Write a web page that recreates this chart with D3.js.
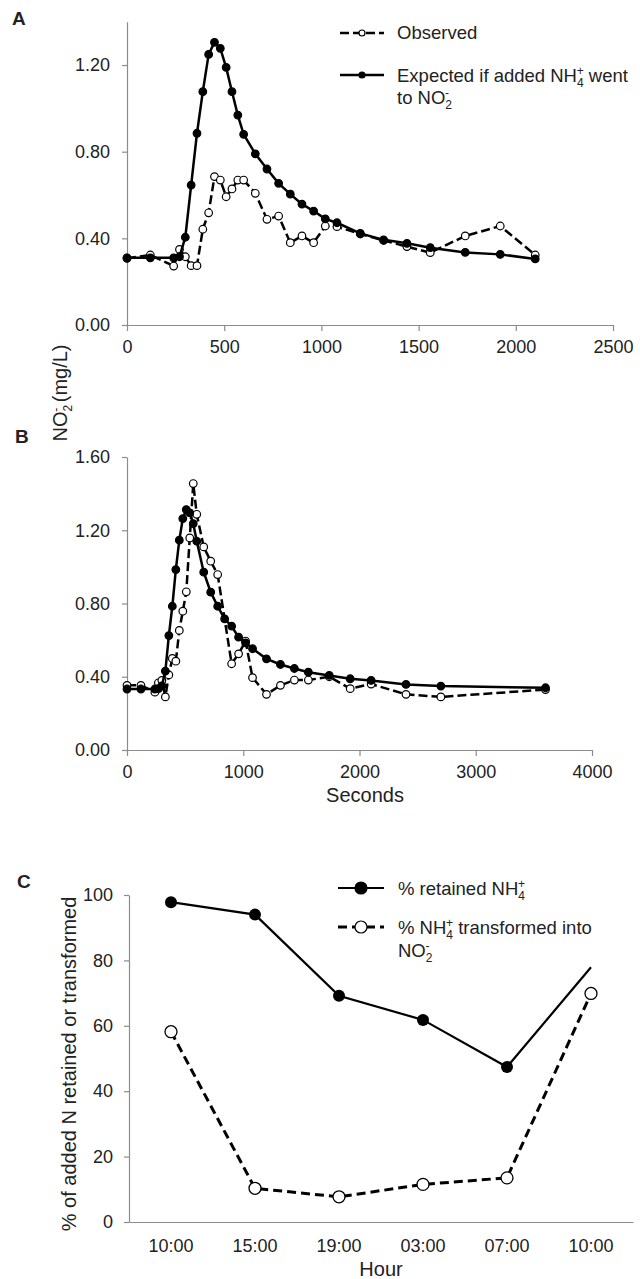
<!DOCTYPE html>
<html>
<head>
<meta charset="utf-8">
<script src="https://cdn.jsdelivr.net/npm/d3@7"></script>
<style>
body{margin:0;background:#fff;}
svg text{font-family:"Liberation Sans",Arial,sans-serif;fill:#222;font-size:18px;}
.axis path,.axis line{stroke:#8c8c8c;stroke-width:1.2;}
.axis text{font-size:18px;fill:#222;}
.title{font-size:20px !important;}
.leg{font-size:18.5px !important;}
</style>
</head>
<body>
<div id="chart"></div>
<script>
// panel A
var secExpA=[0,120,240,270,300,330,360,390,420,450,480,510,540,570,600,660,720,780,840,900,960,1020,1080,1200,1320,1440,1560,1740,1920,2100];
var expA=[0.31,0.31,0.31,0.315,0.405,0.646,0.885,1.077,1.249,1.305,1.277,1.189,1.077,0.969,0.880,0.790,0.720,0.654,0.604,0.558,0.526,0.490,0.472,0.423,0.393,0.377,0.357,0.335,0.326,0.305];
var secObsA=[0,120,240,270,300,330,360,390,420,450,480,510,540,570,600,660,720,780,840,900,960,1020,1080,1200,1320,1440,1560,1740,1920,2100];
var obsA=[0.308,0.323,0.272,0.349,0.315,0.274,0.274,0.442,0.518,0.685,0.669,0.592,0.628,0.669,0.669,0.608,0.488,0.503,0.380,0.411,0.380,0.457,0.454,0.42,0.39,0.362,0.334,0.411,0.457,0.323];
var ticksXA=[0,500,1000,1500,2000,2500];
var ticksYA=[0,0.4,0.8,1.2];

// panel B
var secExpB=[0,120,240,270,300,330,360,390,420,450,480,510,540,570,600,660,720,780,840,900,960,1020,1080,1200,1320,1440,1560,1740,1920,2100,2400,2700,3600];
var expB=[0.333,0.333,0.333,0.335,0.35,0.431,0.625,0.785,0.985,1.146,1.264,1.313,1.295,1.236,1.14,0.971,0.862,0.785,0.716,0.676,0.616,0.585,0.553,0.498,0.467,0.445,0.425,0.407,0.389,0.38,0.358,0.349,0.34];
var secObsB=[0,120,240,270,300,330,360,390,420,450,480,510,540,570,600,660,720,780,900,960,1020,1080,1200,1320,1440,1560,1740,1920,2100,2400,2700,3600];
var obsB=[0.353,0.353,0.316,0.367,0.38,0.29,0.41,0.50,0.485,0.653,0.758,0.864,1.158,1.455,1.287,1.109,1.031,0.958,0.471,0.525,0.595,0.395,0.304,0.353,0.382,0.382,0.40,0.335,0.36,0.304,0.29,0.33];
var ticksXB=[0,1000,2000,3000,4000];
var ticksYB=[0,0.4,0.8,1.2,1.6];

// panel C
var hours=["10:00","15:00","19:00","03:00","07:00","10:00"];
var retained=[97.8,94.0,69.2,61.8,47.4,77.9];
var retainedMark=[1,1,1,1,1,0];
var transformed=[58.2,10.3,7.7,11.5,13.5,69.9];
var ticksYC=[0,20,40,60,80,100];

var svg=d3.select("#chart").append("svg")
	.attr("width",640)
	.attr("height",1279);

// text with stacked sub/superscripts: n normal, b sub, p sup over the sub
function rich(t,segs){
	var off=0;
	segs.forEach(function(g){
		var sp=t.append("tspan").text(g[0]);
		var target=0;
		if(g[1]=="b"){target=5;sp.style("font-size","12px");}
		if(g[1]=="p"){target=-7;sp.style("font-size","12px").attr("dx",-7);}
		sp.attr("dy",target-off);
		off=target;
	});
	return t;
}

function drawAxes(x,y,xt,yt,fmt){
	svg.append("g").attr("class","axis")
		.attr("transform","translate(0,"+y.range()[0]+")")
		.call(d3.axisBottom(x).tickValues(xt).tickSize(6).tickSizeOuter(0).tickPadding(9).tickFormat(d3.format("d")));
	svg.append("g").attr("class","axis")
		.attr("transform","translate("+x.range()[0]+",0)")
		.call(d3.axisLeft(y).tickValues(yt).tickSize(5).tickSizeOuter(0).tickPadding(12).tickFormat(fmt));
}

function drawSeries(x,y,xs,ys,dashed,filled,r,w){
	var pts=xs.map(function(d,i){return [x(d),y(ys[i])];});
	svg.append("path")
		.attr("d",d3.line()(pts))
		.attr("fill","none")
		.attr("stroke","#000")
		.attr("stroke-width",w)
		.attr("stroke-dasharray",dashed?"9,4":null);
	svg.append("g").selectAll("circle")
		.data(pts)
		.enter()
		.append("circle")
		.attr("cx",function(d){return d[0];})
		.attr("cy",function(d){return d[1];})
		.attr("r",r)
		.attr("fill",filled?"#000":"#fff")
		.attr("stroke","#000")
		.attr("stroke-width",1.2);
}

// ---- A ----
var xA=d3.scaleLinear().domain([0,2500]).range([127,613]);
var yA=d3.scaleLinear().domain([0,1.4]).range([325,21.7]);
drawAxes(xA,yA,ticksXA,ticksYA,d3.format(".2f"));
drawSeries(xA,yA,secObsA,obsA,true,false,3.8,2.5);
drawSeries(xA,yA,secExpA,expA,false,true,3.8,2.5);

// ---- B ----
var xB=d3.scaleLinear().domain([0,4000]).range([127,592]);
var yB=d3.scaleLinear().domain([0,1.6]).range([750,457]);
drawAxes(xB,yB,ticksXB,ticksYB,d3.format(".2f"));
drawSeries(xB,yB,secObsB,obsB,true,false,3.8,2.5);
drawSeries(xB,yB,secExpB,expB,false,true,3.8,2.5);

// legend A
function legendRow(x1,x2,y,dashed,filled,r,w,dash){
	svg.append("line").attr("x1",x1).attr("x2",x2).attr("y1",y).attr("y2",y)
		.attr("stroke","#000").attr("stroke-width",w)
		.attr("stroke-dasharray",dashed?dash:null);
	svg.append("circle").attr("cx",(x1+x2)/2).attr("cy",y).attr("r",r)
		.attr("fill",filled?"#000":"#fff").attr("stroke","#000").attr("stroke-width",1.2);
}
legendRow(340,384,33,true,false,3,2.5,"9,4");
legendRow(340,384,75,false,true,3,2.5,null);
svg.append("text").attr("class","leg").attr("x",397).attr("y",39).text("Observed");
rich(svg.append("text").attr("class","leg").attr("x",397).attr("y",82),[["Expected if added NH","n"],["4","b"],["+","p"],[" went","n"]]);
rich(svg.append("text").attr("class","leg").attr("x",397).attr("y",104),[["to NO","n"],["2","b"],["-","p"]]);

// panel letters
svg.append("text").attr("x",12).attr("y",25).style("font-weight","bold").style("font-size","19px").text("A");
svg.append("text").attr("x",15).attr("y",443).style("font-weight","bold").style("font-size","19px").text("B");
svg.append("text").attr("x",17).attr("y",888).style("font-weight","bold").style("font-size","19px").text("C");

// shared y title A/B
rich(svg.append("text").attr("class","title").attr("transform","translate(67,393) rotate(-90)").attr("text-anchor","middle"),
	[["NO","n"],["2","b"],["-","p"],[" (mg/L)","n"]]);
svg.append("text").attr("class","title").attr("x",365).attr("y",802).attr("text-anchor","middle").text("Seconds");

// ---- C ----
var xC=d3.scaleBand().domain(d3.range(hours.length)).range([129,633]);
var yC=d3.scaleLinear().domain([0,100]).range([1222,895]);
svg.append("g").attr("class","axis")
	.attr("transform","translate(0,1222)")
	.call(d3.axisBottom(xC).tickSize(0).tickSizeOuter(0).tickPadding(17).tickFormat(function(i){return hours[i];}));
svg.append("g").attr("class","axis")
	.attr("transform","translate(129,0)")
	.call(d3.axisLeft(yC).tickValues(ticksYC).tickSize(5).tickSizeOuter(0).tickPadding(11));

function cx(i){return xC(i)+xC.bandwidth()/2;}
svg.append("path")
	.attr("d",d3.line().x(function(d,i){return cx(i);}).y(function(d){return yC(d);})(transformed))
	.attr("fill","none").attr("stroke","#000").attr("stroke-width",3).attr("stroke-dasharray","9,5");
svg.append("path")
	.attr("d",d3.line().x(function(d,i){return cx(i);}).y(function(d){return yC(d);})(retained))
	.attr("fill","none").attr("stroke","#000").attr("stroke-width",2.2);
svg.append("g").selectAll("circle")
	.data(transformed).enter().append("circle")
	.attr("cx",function(d,i){return cx(i);})
	.attr("cy",function(d){return yC(d);})
	.attr("r",6).attr("fill","#fff").attr("stroke","#000").attr("stroke-width",1.3);
svg.append("g").selectAll("circle")
	.data(retained.filter(function(d,i){return retainedMark[i];})).enter().append("circle")
	.attr("cx",function(d,i){return cx(i);})
	.attr("cy",function(d){return yC(d);})
	.attr("r",6).attr("fill","#000");

legendRow(338,384,888,false,true,6,2.2,null);
legendRow(338,384,927,true,false,6,3,"9,5");
rich(svg.append("text").attr("class","leg").attr("x",398).attr("y",895),[["% retained NH","n"],["4","b"],["+","p"]]);
rich(svg.append("text").attr("class","leg").attr("x",398).attr("y",934),[["% NH","n"],["4","b"],["+","p"],[" transformed into","n"]]);
rich(svg.append("text").attr("class","leg").attr("x",398).attr("y",957),[["NO","n"],["2","b"],["-","p"]]);

svg.append("text").attr("class","title").attr("transform","translate(76,1064) rotate(-90)").attr("text-anchor","middle")
	.text("% of added N retained or transformed");
svg.append("text").attr("class","title").attr("x",381).attr("y",1276).attr("text-anchor","middle").text("Hour");
</script>
</body>
</html>
